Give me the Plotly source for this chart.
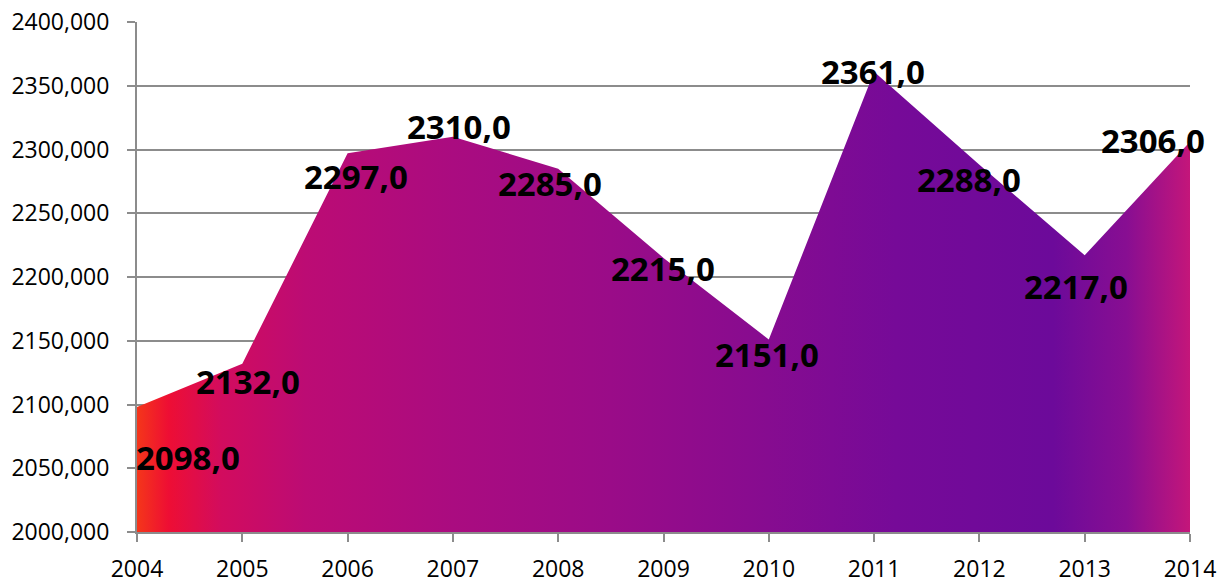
import plotly.graph_objects as go

# chart values
years = [2004, 2005, 2006, 2007, 2008, 2009, 2010, 2011, 2012, 2013, 2014]
values = [2098, 2132, 2297, 2310, 2285, 2215, 2151, 2361, 2288, 2217, 2306]
y_ticks = [2000, 2050, 2100, 2150, 2200, 2250, 2300, 2350, 2400]

# where each data label sits relative to its point (px, right / down)
label_offsets = [(51, 50), (6, 18), (8, 23), (6, -10), (-8, 15), (-1, 11),
                 (-2, 15), (-1, 0), (-10, 15), (-9, 31), (-37, -1)]

grad = [
    [0.0, "#f4361a"],
    [0.03, "#ee0e34"],
    [0.08, "#d20c5e"],
    [0.16, "#bc0c74"],
    [0.3, "#aa0c80"],
    [0.45, "#9a0c88"],
    [0.6, "#860c90"],
    [0.72, "#760a98"],
    [0.87, "#6c0a9a"],
    [0.94, "#880e92"],
    [1.0, "#c4167a"],
]

fig = go.Figure()
fig.add_trace(go.Scatter(
    x=years, y=values, mode="none", fill="tozeroy",
    fillgradient=dict(type="horizontal", colorscale=grad),
    hoverinfo="skip", showlegend=False,
))

for yr, v, (dx, dy) in zip(years, values, label_offsets):
    fig.add_annotation(
        x=yr, y=v, xref="x", yref="y", showarrow=False,
        text=f"{v:.1f}".replace(".", ","),
        font=dict(family="Open Sans", size=33, color="black", weight="bold",
                  shadow="none"),
        xshift=dx, yshift=-dy,
    )

fig.update_layout(
    width=1220, height=579,
    margin=dict(l=137, r=30, t=22, b=47, autoexpand=False),
    paper_bgcolor="white", plot_bgcolor="white",
    separators=", ",
    font=dict(family="Open Sans", size=23, color="black"),
)
fig.update_xaxes(
    range=[2004, 2014], tickvals=years, ticktext=[str(y) for y in years],
    showgrid=False, zeroline=False, automargin=False,
    showline=True, linecolor="#8c8c8c", linewidth=2,
    ticks="outside", ticklen=8, tickwidth=2, tickcolor="#8c8c8c",
    ticklabelstandoff=7, ticklabeloverflow="allow",
)
fig.update_yaxes(
    range=[2000, 2400], tickvals=y_ticks, tickformat=".3f",
    showgrid=True, gridcolor="#8c8c8c", gridwidth=2, zeroline=False,
    automargin=False,
    showline=True, linecolor="#8c8c8c", linewidth=2,
    ticks="outside", ticklen=8, tickwidth=2, tickcolor="#8c8c8c",
    ticklabelstandoff=13, ticklabeloverflow="allow",
)

# drop the default page margin so the figure fills the window
fig.write_html(
    "out.html",
    config={"displayModeBar": False},
    post_script="document.body.style.margin='0';document.body.style.overflow='hidden';",
)
